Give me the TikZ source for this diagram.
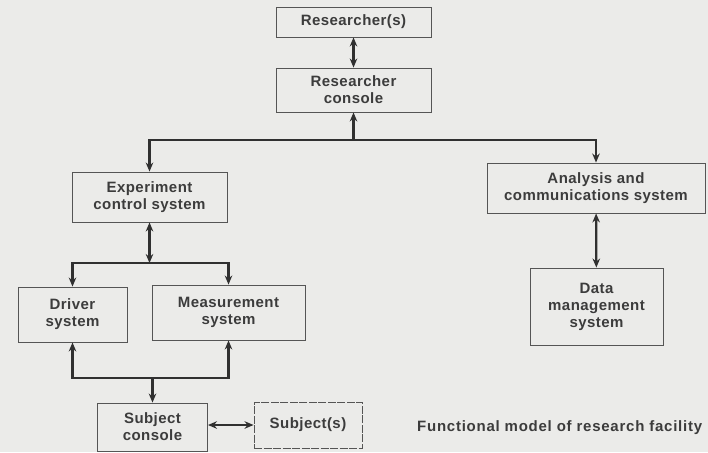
\documentclass[tikz,border=0pt]{standalone}
\usepackage{fontspec}
\setmainfont{Liberation Sans}[LetterSpace=3]
\usetikzlibrary{arrows.meta}
\definecolor{paper}{HTML}{EBEBE9}
\definecolor{ink}{HTML}{3C3C3C}
\definecolor{edge}{HTML}{555555}
\begin{document}
\begin{tikzpicture}[x=1pt,y=-1pt,
  box/.style={draw=edge,line width=0.9pt,align=center,inner sep=0pt,
    text=ink,font=\fontsize{15}{17}\selectfont\bfseries},
  ghost/.style={box,dashed,dash pattern=on 8pt off 1.5pt},
  conn/.style={draw=ink!80!black,line width=2.2pt,
    >={Stealth[length=9pt,width=7.5pt]}},
  caption/.style={text=ink,inner sep=0pt,anchor=west,
    font=\fontsize{15}{17}\selectfont\bfseries\addfontfeatures{LetterSpace=5}}]
  % sheet
  \fill[paper] (0,0) rectangle (708,452);
  \useasboundingbox (0,0) rectangle (708,452);

  % blocks
  \node[box,minimum width=155pt,minimum height=30pt] (res) at (353.5,22) {Researcher(s)};
  \node[box,minimum width=155pt,minimum height=44pt] (rcon) at (353.5,90) {Researcher\\console};
  \node[box,minimum width=155pt,minimum height=50pt] (ecs) at (149.5,197) {Experiment\\control system};
  \node[box,minimum width=218pt,minimum height=50pt] (acs) at (596,188) {Analysis and\\communications system};
  \node[box,minimum width=133pt,minimum height=77pt] (dms) at (596.5,306.5) {Data\\management\\system};
  \node[box,minimum width=109pt,minimum height=55pt] (drv) at (72.5,314.5) {Driver\\system};
  \node[box,minimum width=153pt,minimum height=55pt] (meas) at (228.5,312.5) {Measurement\\system};
  \node[box,minimum width=110pt,minimum height=48pt] (scon) at (152.5,427) {Subject\\console};
  \node[ghost,minimum width=108pt,minimum height=46pt] (subj) at (308,425) {Subject(s)};

  \node[caption] (cap) at (417,428) {Functional model of research facility};

  % branch points
  \coordinate (top) at (353.5,140);
  \coordinate (mid) at (149.5,263);
  \coordinate (low) at (152.5,378);

  % connectors
  \draw[conn,<->] (res) -- (rcon);
  \draw[conn,<-] (rcon) -- (top);
  \draw[conn,->] (top) -| (ecs.north);
  \draw[conn,->] (top) -| (acs.north);
  \draw[conn,<->] (acs) -- (dms);
  \draw[conn,<->] (ecs) -- (mid);
  \draw[conn,->] (mid) -| (drv.north);
  \draw[conn,->] (mid) -| (meas.north);
  \draw[conn,<-] (drv.south) |- (low);
  \draw[conn,<-] (meas.south) |- (low);
  \draw[conn,->] (low) -- (scon.north);
  \draw[conn,<->] (scon.east |- subj.west) -- (subj.west);
\end{tikzpicture}
\end{document}
